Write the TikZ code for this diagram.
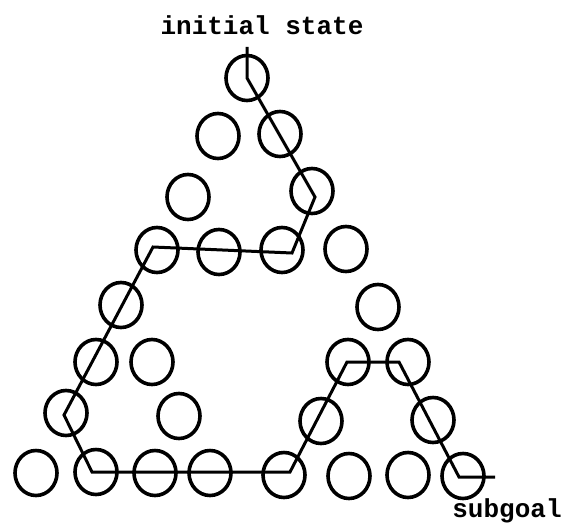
\documentclass[tikz,border=0pt]{standalone}
\usepackage{fontspec}
\setmonofont{Liberation Mono}
\usetikzlibrary{calc,shapes.geometric}
\tikzset{
  hstate/.style={
    draw,
    ellipse,
    line width=3.6pt,
    minimum width=42pt,
    minimum height=45pt,
    inner sep=0pt
  },
  route/.style={line width=3pt,line join=miter},
  caption/.style={font=\ttfamily\bfseries\fontsize{26}{30}\selectfont,inner sep=0pt,anchor=base}
}

\begin{document}
\begin{tikzpicture}[x=1pt,y=-1pt]
      \useasboundingbox (0,0) rectangle (564,527);
      % rows of the state triangle
      \node[hstate] (a) at (247,78) {};
      \node[hstate] (b1) at (218,136) {};
      \node[hstate] (b2) at (280,134) {};
      \node[hstate] (c1) at (188,197) {};
      \node[hstate] (c2) at (312,191) {};
      \node[hstate] (d1) at (157,250) {};
      \node[hstate] (d2) at (219,252) {};
      \node[hstate] (d3) at (282,250) {};
      \node[hstate] (d4) at (346,249) {};
      \node[hstate] (e1) at (121,305) {};
      \node[hstate] (e2) at (378,307) {};
      \node[hstate] (f1) at (96,362) {};
      \node[hstate] (f2) at (152,362) {};
      \node[hstate] (f3) at (348,362) {};
      \node[hstate] (f4) at (408,362) {};
      \node[hstate] (g1) at (66,413) {};
      \node[hstate] (g2) at (179,416) {};
      \node[hstate] (g3) at (321,421) {};
      \node[hstate] (g4) at (433,420) {};
      \node[hstate] (h1) at (36,473) {};
      \node[hstate] (h2) at (96,472) {};
      \node[hstate] (h3) at (155,473) {};
      \node[hstate] (h4) at (210,473) {};
      \node[hstate] (h5) at (284,475) {};
      \node[hstate] (h6) at (349,476) {};
      \node[hstate] (h7) at (408,475) {};
      \node[hstate] (h8) at (463,476) {};
      % labels
      \node[caption] (init) at (262,35) {initial state};
      \node[caption] (goal) at (507,517) {subgoal};
      \coordinate (start) at (247,47);
      \coordinate (finish) at (495,477);
      % solution path
      \draw[route] (start) -- (a.center) -- ($(c2)+(3,6)$) -- ($(d3)+(10,3)$)
        -- ($(d1)+(-4,-3)$) -- ($(g1)+(-2,2)$) -- ($(h2)+(-4,0)$)
        -- ($(h5)+(6,-3)$) -- ($(f3)+(-1,0)$) -- ($(f4)+(-9,0)$)
        -- ($(h8)+(-4,1)$) -- (finish);
    \end{tikzpicture}
\end{document}
